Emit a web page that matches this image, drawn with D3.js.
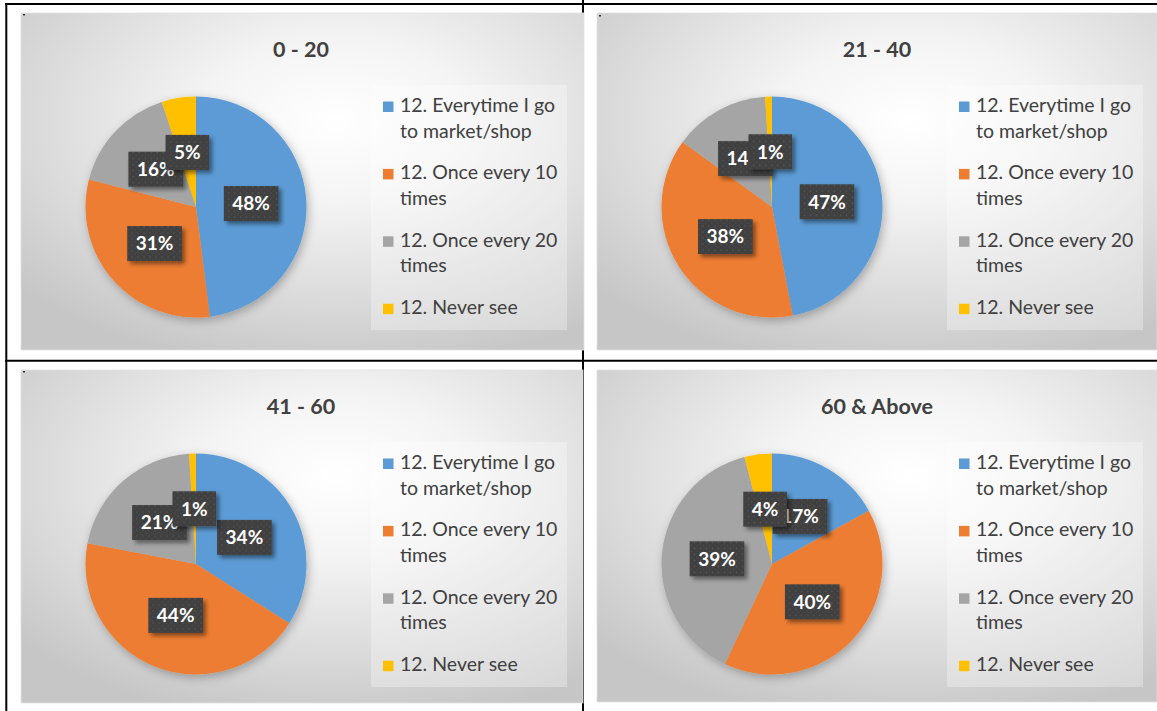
<!DOCTYPE html>
<html>
<head>
<meta charset="utf-8">
<script src="https://cdn.jsdelivr.net/npm/d3@7"></script>
<style>
  html, body { margin: 0; padding: 0; background: #ffffff; }
  svg { display: block; }
</style>
</head>
<body>
<svg id="chart" width="1157" height="711"></svg>
<script>
// ---------------- DATA ----------------
const categories = [
  "12. Everytime I go to market/shop",
  "12. Once every 10 times",
  "12. Once every 20 times",
  "12. Never see"
];
const panelTitles = ["0 - 20", "21 - 40", "41 - 60", "60 & Above"];
const values0to20  = [48, 31, 16, 5];
const values21to40 = [47, 38, 14, 1];
const values41to60 = [34, 44, 21, 1];
const values60plus = [17, 40, 39, 4];
const seriesValues = [values0to20, values21to40, values41to60, values60plus];

// ---------------- STYLE / LAYOUT ----------------
const sliceColors = ["#5B9BD5", "#ED7D31", "#A5A5A5", "#FFC000"];
const fontFamily = "Lato, 'Open Sans', 'Noto Sans', sans-serif";
const panels = [
  { x: 21,  y: 13,  w: 563, h: 337 },
  { x: 597, y: 13,  w: 560, h: 337 },
  { x: 21,  y: 370, w: 562, h: 333 },
  { x: 597, y: 370, w: 560, h: 332 }
];

const svg = d3.select("#chart");
const defs = svg.append("defs");

// background gradient
const grad = defs.append("radialGradient")
  .attr("id", "bgGrad")
  .attr("cx", 0.56).attr("cy", 0.32).attr("r", 0.75)
  .attr("fx", 0.56).attr("fy", 0.32);
grad.append("stop").attr("offset", "0%").attr("stop-color", "#ffffff");
grad.append("stop").attr("offset", "32%").attr("stop-color", "#f4f4f4");
grad.append("stop").attr("offset", "70%").attr("stop-color", "#dbdbdb");
grad.append("stop").attr("offset", "100%").attr("stop-color", "#c6c6c6");

// label box dot pattern
const pat = defs.append("pattern")
  .attr("id", "dots").attr("patternUnits", "userSpaceOnUse")
  .attr("width", 6).attr("height", 6);
pat.append("rect").attr("width", 6).attr("height", 6).attr("fill", "#3f3f3f");
pat.append("circle").attr("cx", 1.5).attr("cy", 1.5).attr("r", 0.9).attr("fill", "#555555");
pat.append("circle").attr("cx", 4.5).attr("cy", 4.5).attr("r", 0.9).attr("fill", "#4a4a4a");

// shadows
const pieShadow = defs.append("filter").attr("id", "pieShadow")
  .attr("x", "-20%").attr("y", "-20%").attr("width", "140%").attr("height", "140%");
pieShadow.append("feDropShadow").attr("dx", 2).attr("dy", 3)
  .attr("stdDeviation", 5).attr("flood-color", "#000").attr("flood-opacity", 0.28);

const boxShadow = defs.append("filter").attr("id", "boxShadow")
  .attr("x", "-30%").attr("y", "-30%").attr("width", "170%").attr("height", "170%");
boxShadow.append("feDropShadow").attr("dx", 3).attr("dy", 3)
  .attr("stdDeviation", 2).attr("flood-color", "#000").attr("flood-opacity", 0.45);

// ---------------- TABLE LINES ----------------
const lines = svg.append("g").attr("stroke", "#000").attr("stroke-width", 2);
lines.append("line").attr("x1", 583).attr("x2", 583).attr("y1", 0).attr("y2", 711);
lines.append("line").attr("x1", 5).attr("x2", 1157).attr("y1", 4).attr("y2", 4);
lines.append("line").attr("x1", 6.3).attr("x2", 6.3).attr("y1", 3).attr("y2", 711);
lines.append("line").attr("x1", 5).attr("x2", 1157).attr("y1", 360.7).attr("y2", 360.7);

// ---------------- PANELS ----------------
const pie = d3.pie().sort(null).value(d => d).startAngle(0).endAngle(2 * Math.PI);
const radius = 110.5;
const arc = d3.arc().innerRadius(0).outerRadius(radius);
const labelArc = d3.arc().innerRadius(0).outerRadius(radius); // centroid at r/2
const pct = d3.format(".0%");

function wrapWords(text, maxW, measureNode) {
  const words = text.split(" ");
  const out = [];
  let cur = "";
  words.forEach(w => {
    const test = cur ? cur + " " + w : w;
    measureNode.text(test);
    if (measureNode.node().getComputedTextLength() > maxW && cur) {
      out.push(cur);
      cur = w;
    } else cur = test;
  });
  if (cur) out.push(cur);
  return out;
}

panels.forEach((p, pi) => {
  const g = svg.append("g").attr("transform", `translate(${p.x},${p.y})`);
  g.append("rect").attr("width", p.w).attr("height", p.h)
    .attr("fill", "url(#bgGrad)").attr("stroke", "#e2e2e2").attr("stroke-width", 0.8);
  if (pi < 3) {
    g.append("rect").attr("x", 2).attr("y", pi === 1 ? 2 : 1).attr("width", 2).attr("height", 1.5).attr("fill", "#333");
  }

  // title
  g.append("text")
    .attr("x", 280).attr("y", 44)
    .attr("text-anchor", "middle")
    .attr("font-family", fontFamily).attr("font-weight", "bold")
    .attr("font-size", 21.5).attr("fill", "#404040")
    .text(panelTitles[pi]);

  // pie
  const vals = seriesValues[pi];
  const total = d3.sum(vals);
  const arcs = pie(vals);
  const pg = g.append("g").attr("transform", `translate(175,194)`);
  pg.append("g").attr("filter", "url(#pieShadow)")
    .selectAll("path").data(arcs).join("path")
    .attr("d", arc).attr("fill", (d, i) => sliceColors[i]);

  // data labels
  const lg = pg.append("g");
  arcs.forEach((d, i) => {
    const [cx, cy] = labelArc.centroid(d);
    const lab = lg.append("g").attr("transform", `translate(${cx},${cy})`);
    const rect = lab.append("rect").attr("fill", "url(#dots)").attr("filter", "url(#boxShadow)");
    const t = lab.append("text")
      .attr("text-anchor", "middle").attr("dy", "0.36em")
      .attr("font-family", fontFamily).attr("font-weight", "bold")
      .attr("font-size", 19).attr("fill", "#ffffff")
      .text(pct(d.data / total));
    const tw = t.node().getComputedTextLength();
    const bw = tw + 17, bh = 35;
    rect.attr("x", -bw / 2).attr("y", -bh / 2).attr("width", bw).attr("height", bh);
  });

  // legend
  const leg = g.append("g").attr("transform", `translate(350,72)`);
  leg.append("rect").attr("width", 196).attr("height", 245)
    .attr("fill", "#ffffff").attr("fill-opacity", 0.3);
  const measure = leg.append("text")
    .attr("font-family", fontFamily).attr("font-size", 19.5).attr("visibility", "hidden");
  categories.forEach((c, i) => {
    const base = 27 + i * 67.4;
    leg.append("rect").attr("x", 12).attr("y", base - 10.5)
      .attr("width", 10.5).attr("height", 10.5).attr("fill", sliceColors[i]);
    const linesTxt = wrapWords(c, 162, measure);
    const t = leg.append("text")
      .attr("font-family", fontFamily).attr("font-size", 19.5).attr("fill", "#404040");
    linesTxt.forEach((ln, li) => {
      t.append("tspan").attr("x", 29).attr("y", base + li * 25.5).text(ln);
    });
  });
  measure.remove();
});
</script>
</body>
</html>
